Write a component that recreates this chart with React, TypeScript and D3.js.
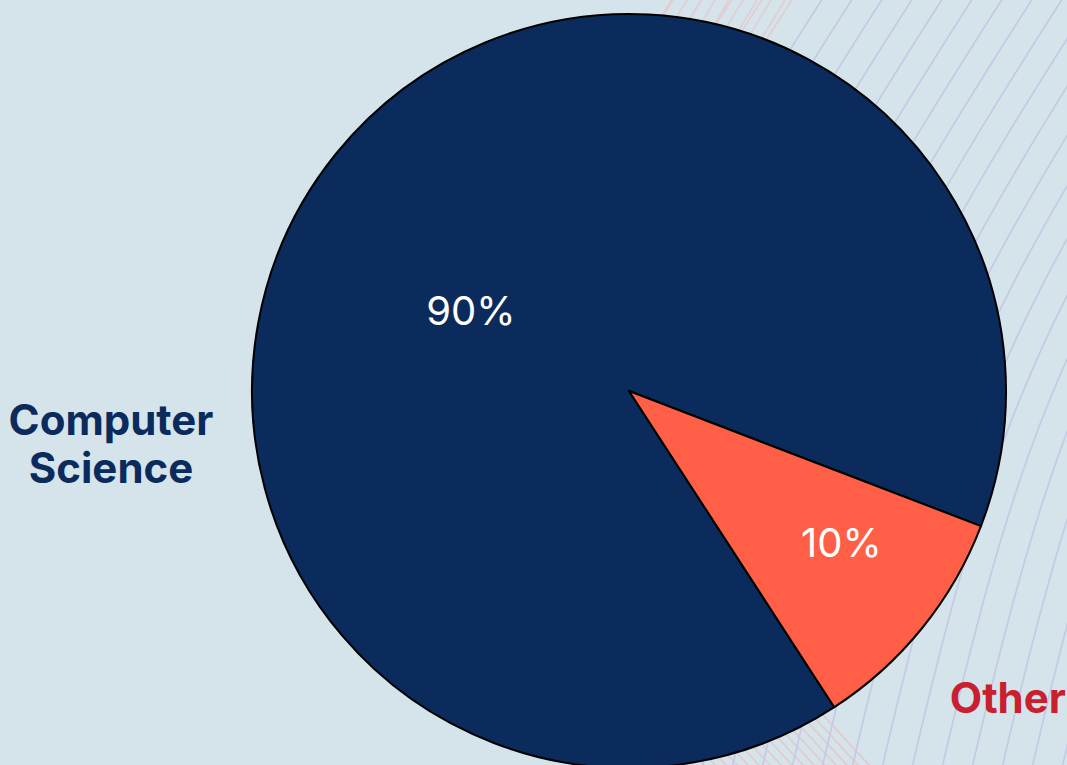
import * as d3 from "d3"

const categories = ["Computer Science", "Other"]
const values = [90, 10]
const sliceColors = ["#0b2b5c", "#fe5f46"]
const labelColors = ["#0b2b5c", "#c8202f"]
const labelLines = [["Computer", "Science"], ["Other"]]

// label placement (fractions of the radius, degrees relative to slice middle)
const pctRadius = [0.47, 0.692]
const pctShift = [-12.1, -3.5]
const outRadius = [1.381, 1.293]
const outShift = [-44.8, 0]

const W = 1067
const H = 765
const cx = 629
const cy = 391
const R = 377
const FONT = "Inter, 'Noto Sans', sans-serif"
const deg = Math.PI / 180

function polar(angle: number, r: number): [number, number] {
  return [cx + r * Math.sin(angle), cy - r * Math.cos(angle)]
}

export default function App() {
  const pie = d3.pie<number>().sort(null).startAngle(147 * deg).endAngle(507 * deg)
  const arcs = pie(values)
  const arc = d3.arc<d3.PieArcDatum<number>>().innerRadius(0).outerRadius(R)

  // decorative curved hairlines in the background
  const curve = d3.line().curve(d3.curveBasis)
  const swoosh = d3.range(150, 1250, 30).map(xb => {
    const pts: [number, number][] = [[xb, 820], [xb + 60, 560], [xb + 150, 300], [xb + 380, -60]]
    const topX = xb + 320
    return { d: curve(pts) as string, pink: topX < 790 }
  })
  const pinkTop = d3.range(665, 790, 14).map(x => {
    const pts: [number, number][] = [[x - 120, 200], [x - 40, 80], [x + 20, -20]]
    return curve(pts) as string
  })
  const hatch = d3.range(560, 800, 11).map(x => ({ x1: x, y1: 680, x2: x + 110, y2: 800 }))

  return (
    <svg width={W} height={H} style={{ position: "absolute", left: 0, top: 0 }}>
      <defs>
        <clipPath id="deco">
          <rect x={650} y={0} width={W - 650} height={H} />
        </clipPath>
      </defs>
      <rect width={W} height={H} fill="#d4e4ea" />
      <g clipPath="url(#deco)" fill="none" strokeWidth={1.7}>
        {hatch.map((h, i) => (
          <line key={"h" + i} {...h} stroke="#e3cacc" />
        ))}
        {pinkTop.map((d, i) => (
          <path key={"p" + i} d={d} stroke="#e2cdd3" />
        ))}
        {swoosh.map((s, i) => (
          <path key={"s" + i} d={s.d} stroke={s.pink ? "#e2cdd3" : "#c6c9e5"} />
        ))}
      </g>
      <g transform={`translate(${cx},${cy})`}>
        {arcs.map((a, i) => (
          <path key={categories[i]} d={arc(a) as string} fill={sliceColors[i]} stroke="#000" strokeWidth={2} strokeLinejoin="round" />
        ))}
      </g>
      {arcs.map((a, i) => {
        const mid = (a.startAngle + a.endAngle) / 2
        const [px, py] = polar(mid + pctShift[i] * deg, R * pctRadius[i])
        const [ox, oy] = polar(mid + outShift[i] * deg, R * outRadius[i])
        const lines = labelLines[i]
        const lh = 48
        return (
          <g key={"l" + i} fontFamily={FONT} textAnchor="middle">
            <text x={px} y={py} dy="0.36em" fill="#fff" fontSize={40}>
              {Math.round((a.value / d3.sum(values)) * 100)}%
            </text>
            <text fill={labelColors[i]} fontWeight={700} fontSize={42}>
              {lines.map((t, j) => (
                <tspan key={t} x={ox} y={oy + (j - (lines.length - 1) / 2) * lh} dy="0.36em">
                  {t}
                </tspan>
              ))}
            </text>
          </g>
        )
      })}
    </svg>
  )
}
